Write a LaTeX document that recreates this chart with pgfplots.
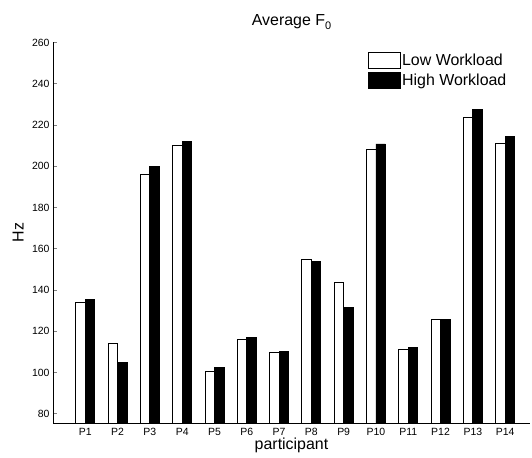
\documentclass[border=0pt]{standalone}
\usepackage{pgfplots}
\pgfplotsset{compat=1.18}
\usepackage{fontspec}
\setmainfont{Liberation Sans}
\pgfplotstableread{
x low high
1 134.2 135.3
2 114.2 105.0
3 196.2 199.8
4 210.1 211.9
5 100.3 102.6
6 116.1 116.8
7 109.8 110.3
8 154.6 153.9
9 143.9 131.6
10 208.3 210.8
11 111.3 112.0
12 125.8 125.8
13 223.6 227.4
14 211.1 214.6
}\datatable
\begin{document}
\begin{tikzpicture}
\useasboundingbox (-53bp,-35bp) rectangle (479bp,423bp);
\begin{axis}[
  at={(0,0)}, anchor=south west,
  scale only axis, width=477bp, height=380.5bp,
  xmin=0, xmax=14.77, ymin=75.5, ymax=260,
  axis x line*=bottom, axis y line*=left,
  axis line style={line width=0.8bp},
  ybar=0pt, bar width=9.5bp,
  legend image code/.code={\draw[#1] (0bp,-8bp) rectangle (32bp,8bp);},
  xtick={1,...,14},
  xticklabels={P1,P2,P3,P4,P5,P6,P7,P8,P9,P10,P11,P12,P13,P14},
  ytick={80,100,...,260},
  tick align=inside, major tick length=4bp,
  xtick style={draw=none},
  ytick style={line width=0.8bp},
  tick label style={font=\fontsize{10.5}{12}\selectfont},
  xticklabel style={yshift=-2bp},
  /pgf/number format/assume math mode=true,
  xlabel={participant}, ylabel={Hz},
  label style={font=\fontsize{16}{18}\selectfont},
  xlabel style={at={(axis description cs:0.5,-0.06)}, anchor=center},
  ylabel style={at={(axis description cs:-0.073,0.5)}, anchor=center, rotate=0},
  title={Average F\raisebox{-0.5ex}{\fontsize{11}{11}\selectfont 0}},
  title style={font=\fontsize{16}{18}\selectfont, at={(axis description cs:0.5,1.03)}, anchor=base},
  legend style={at={(axis description cs:0.954,0.975)}, anchor=north east, draw=none, fill=none,
    font=\fontsize{16}{17}\selectfont, row sep=3bp, inner sep=0pt,
    nodes={inner xsep=1.5bp, inner ysep=0.5bp}},
  legend cell align=left,
]
\addplot[draw=black, fill=white, line width=0.8bp] table[x=x,y=low] {\datatable};
\addplot[draw=black, fill=black, line width=0.8bp] table[x=x,y=high] {\datatable};
\legend{Low Workload, High Workload}
\end{axis}
\end{tikzpicture}
\end{document}
